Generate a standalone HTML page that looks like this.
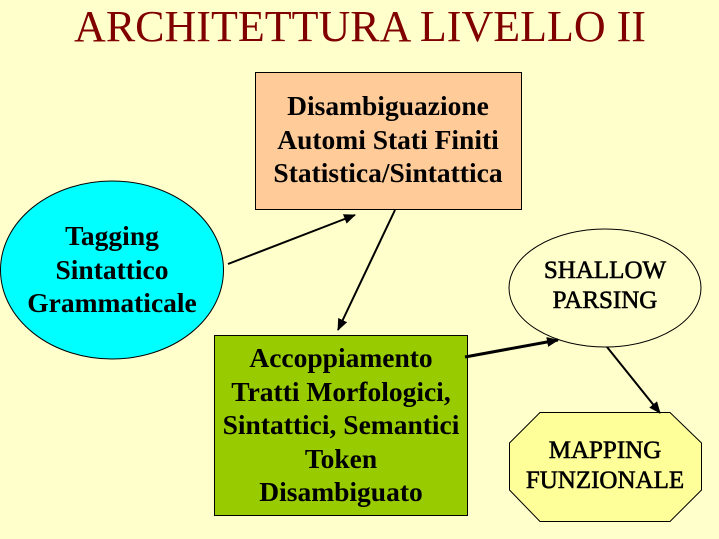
<!DOCTYPE html>
<html><head><meta charset="utf-8"><style>
body{margin:0;width:719px;height:539px;background:#ffffcc;overflow:hidden;position:relative;font-family:"Liberation Serif",serif}
.t{position:absolute;font-weight:bold;color:#000;text-align:center;font-size:27.5px;line-height:33.5px;white-space:nowrap}
</style></head><body>
<svg width="719" height="539" style="position:absolute;left:0;top:0">
<defs><marker id="a" markerWidth="12" markerHeight="10" refX="11" refY="5" orient="auto" markerUnits="userSpaceOnUse"><path d="M0,0L12,5L0,10z" fill="#000"/></marker></defs>
<text x="360" y="41" text-anchor="middle" font-family="Liberation Serif" font-size="44" fill="#800000">ARCHITETTURA LIVELLO II</text>
<rect x="255.5" y="72.5" width="266" height="137" fill="#ffcc99" stroke="#000"/>
<ellipse cx="112" cy="270" rx="111.5" ry="89" fill="#00ffff" stroke="#000"/>
<rect x="214.5" y="335.5" width="253" height="180" fill="#99cc00" stroke="#000"/>
<ellipse cx="605" cy="288" rx="96" ry="59" fill="#ffffcc" stroke="#000"/>
<polygon points="540,412.5 670,412.5 701.5,443 701.5,490 670,521.5 540,521.5 509.5,490 509.5,443" fill="#ffff99" stroke="#000"/>
<g stroke="#000" stroke-width="2" marker-end="url(#a)">
<line x1="228" y1="264" x2="355" y2="215"/>
<line x1="395" y1="210" x2="338" y2="330"/>
<line x1="465" y1="357" x2="558" y2="340" stroke-width="3"/>
<line x1="607" y1="347" x2="660" y2="413"/>
</g>
</svg>
<div class="t" style="left:255px;top:89px;width:266px">Disambiguazione<br>Automi Stati Finiti<br>Statistica/Sintattica</div>
<div class="t" style="left:0;top:219px;width:224px">Tagging<br>Sintattico<br>Grammaticale</div>
<div class="t" style="left:214px;top:341px;width:254px">Accoppiamento<br>Tratti Morfologici,<br>Sintattici, Semantici<br>Token<br>Disambiguato</div>
<div class="t" style="left:509px;top:256px;width:192px;font-size:25px;font-weight:normal;line-height:30px;-webkit-text-stroke:0.6px #000">SHALLOW<br>PARSING</div>
<div class="t" style="left:509px;top:436px;width:192px;font-size:25px;font-weight:normal;line-height:30px;-webkit-text-stroke:0.6px #000">MAPPING<br>FUNZIONALE</div>
</body></html>
